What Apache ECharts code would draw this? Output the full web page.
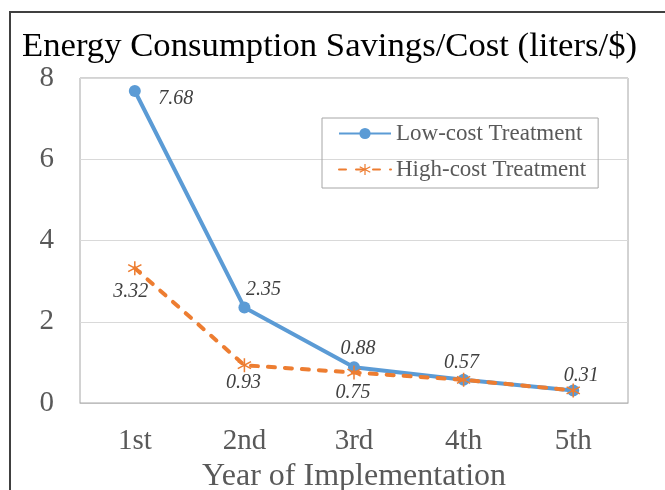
<!DOCTYPE html>
<html>
<head>
<meta charset="utf-8">
<script src="https://cdn.jsdelivr.net/npm/echarts@6/dist/echarts.min.js"></script>
<style>
html, body { margin: 0; padding: 0; background: #fff; }
#container { width: 665px; height: 490px; }
</style>
</head>
<body>
<div id="container"></div>
<script>
var years = ['1st', '2nd', '3rd', '4th', '5th'];
var lowCost = [7.68, 2.35, 0.88, 0.57, 0.31];
var highCost = [3.32, 0.93, 0.75, 0.57, 0.31];

// label offsets relative to each point (layout only)
var lowOffsets = [[41, 8], [19, -18], [4, -19], [-2, -17], [8, -15]];
var highOffsets = [[-4, 24], [-1, 18], [-1, 20], null, null];

var serif = 'Liberation Serif';
var asterisk = 'path://M-1,-10L1,-10L1,10L-1,10Z' +
	'M-9.16,-4.13L-8.16,-5.87L9.16,4.13L8.16,5.87Z' +
	'M-8.16,5.87L-9.16,4.13L8.16,-5.87L9.16,-4.13Z';

function withLabels(values, offsets) {
	return values.map(function(v, i) {
		var off = offsets[i];
		return {
			value: v,
			label: off ? { show: true, position: 'inside', offset: off } : { show: false }
		};
	});
}

var dom = document.getElementById('container');
var myChart = echarts.init(dom);
var labelStyle = {
	fontFamily: serif,
	fontStyle: 'italic',
	fontSize: 20,
	color: '#404040',
	formatter: function(p) { return p.value.toFixed(2); }
};

var option = {
	animation: false,
	backgroundColor: '#fff',
	title: {
		text: 'Energy Consumption Savings/Cost (liters/$)',
		left: 17,
		top: 24,
		textStyle: { fontFamily: serif, fontWeight: 'normal', fontSize: 34.7, color: '#000' }
	},
	graphic: [{
		type: 'rect',
		shape: { x: 10, y: 12, width: 700, height: 600 },
		style: { fill: 'none', stroke: '#404040', lineWidth: 2 },
		silent: true
	}],
	legend: {
		orient: 'vertical',
		left: 322,
		top: 118,
		width: 276,
		padding: [4, 12, 7, 16],
		borderColor: '#a6a6a6',
		borderWidth: 1,
		itemWidth: 52,
		itemHeight: 14,
		itemGap: 13,
		textStyle: { fontFamily: serif, fontSize: 23, color: '#595959' },
		data: ['Low-cost Treatment', 'High-cost Treatment']
	},
	grid: {
		left: 80,
		top: 78,
		right: 37,
		bottom: 87,
		outerBoundsMode: 'none',
		show: true,
		borderColor: '#a6a6a6',
		borderWidth: 1
	},
	xAxis: {
		type: 'category',
		data: years,
		boundaryGap: true,
		axisTick: { show: false },
		axisLine: { show: true, lineStyle: { color: '#bfbfbf' } },
		axisLabel: { fontFamily: serif, fontSize: 29, color: '#595959', margin: 24 },
		name: 'Year of Implementation',
		nameLocation: 'middle',
		nameGap: 57,
		nameTextStyle: { fontFamily: serif, fontSize: 32, color: '#595959' }
	},
	yAxis: {
		type: 'value',
		min: 0,
		max: 8,
		interval: 2,
		axisLine: { show: false },
		axisTick: { show: false },
		axisLabel: { fontFamily: serif, fontSize: 29, color: '#595959', margin: 26 },
		splitLine: { lineStyle: { color: '#d9d9d9', width: 1 } }
	},
	series: [{
		name: 'Low-cost Treatment',
		type: 'line',
		data: withLabels(lowCost, lowOffsets),
		symbol: 'circle',
		symbolSize: 12,
		itemStyle: { color: '#5B9BD5' },
		lineStyle: { color: '#5B9BD5', width: 4 },
		label: labelStyle,
		z: 2
	}, {
		name: 'High-cost Treatment',
		type: 'line',
		data: withLabels(highCost, highOffsets),
		symbol: asterisk,
		symbolSize: 14,
		itemStyle: { color: '#ED7D31' },
		lineStyle: { color: '#ED7D31', width: 4, type: [7, 10], cap: 'round' },
		label: labelStyle,
		z: 3
	}]
};
myChart.setOption(option, true);
</script>
</body>
</html>
